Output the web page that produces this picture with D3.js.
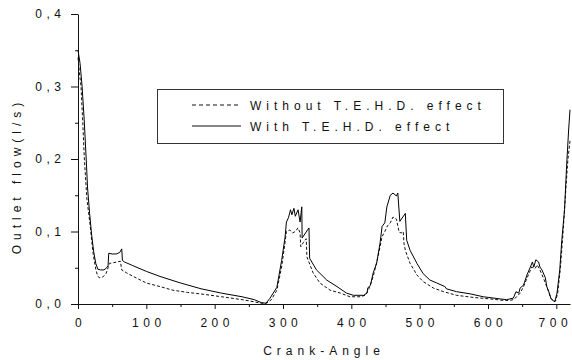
<!DOCTYPE html>
<html>
<head>
<meta charset="utf-8">
<script src="https://cdn.jsdelivr.net/npm/d3@7"></script>
<style>
  body { margin: 0; background: #fff; }
  svg { display: block; }
  .axis text { font-family: "Liberation Sans", Arial, sans-serif; font-size: 12px; letter-spacing: 4.5px; fill: #111; }
  .axis path, .axis line { stroke: #111; stroke-width: 1; }
  .title { font-family: "Liberation Sans", Arial, sans-serif; font-size: 12px; letter-spacing: 5px; fill: #111; }
</style>
</head>
<body>
<div class="flow-chart"></div>
<script>
const WIDTH = 572,
    HEIGHT = 360;

// crank angle (deg) / outlet flow (l/s)
const withAngle = [0, 3, 6, 9, 12, 14, 17, 20, 23, 26, 29, 33, 38, 42, 44, 45, 50, 56, 61, 64, 65, 68, 80, 100, 120, 150, 180, 210, 240, 258, 268, 275, 281, 291, 298, 303, 305, 308, 311, 313, 316, 318, 322, 325, 327.5, 328, 338, 339, 349, 364, 379, 393, 403, 418, 423, 424, 428, 432, 437, 442, 445, 449, 452, 457, 461, 466, 468, 471, 479, 481, 486, 496, 505, 515, 525, 537, 539, 554, 574, 593, 618, 627, 637, 641, 645, 647, 652, 657, 662, 665, 667, 670, 674, 676, 679, 684, 686, 689, 692, 696, 698, 701, 705, 708, 712, 715, 718, 720];
const withFlow = [0.350, 0.332, 0.300, 0.255, 0.200, 0.160, 0.125, 0.095, 0.072, 0.056, 0.048, 0.047, 0.047, 0.050, 0.053, 0.070, 0.069, 0.069, 0.071, 0.076, 0.060, 0.058, 0.053, 0.045, 0.038, 0.029, 0.021, 0.015, 0.010, 0.006, 0.002, 0.001, 0.008, 0.023, 0.060, 0.092, 0.113, 0.119, 0.130, 0.123, 0.132, 0.121, 0.130, 0.113, 0.134, 0.091, 0.105, 0.063, 0.047, 0.033, 0.024, 0.015, 0.012, 0.012, 0.015, 0.022, 0.026, 0.043, 0.056, 0.084, 0.107, 0.112, 0.134, 0.150, 0.153, 0.149, 0.153, 0.114, 0.125, 0.088, 0.074, 0.056, 0.042, 0.033, 0.029, 0.024, 0.021, 0.017, 0.014, 0.010, 0.007, 0.006, 0.008, 0.017, 0.015, 0.022, 0.026, 0.040, 0.051, 0.058, 0.051, 0.061, 0.058, 0.051, 0.047, 0.036, 0.024, 0.017, 0.008, 0.004, 0.004, 0.015, 0.047, 0.088, 0.130, 0.190, 0.240, 0.268];

const withoutAngle = [0, 2, 4.4, 7, 9.3, 13, 17.6, 22, 26, 29, 32, 36, 41, 44, 46, 52, 57, 62, 64, 71, 85, 100, 120, 139, 160, 179, 210, 240, 258, 268, 276, 283, 291, 298, 303, 305, 310, 314, 318, 322, 325, 326, 330, 334, 335, 344, 354, 369, 384, 398, 413, 420, 425, 432, 439, 445, 449, 453, 457, 461, 466, 470, 473, 476, 477, 479, 486, 496, 505, 520, 535, 554, 579, 603, 622, 632, 637, 642, 647, 652, 659, 664, 669, 672, 676, 681, 686, 692, 696, 699, 702, 706, 710, 714, 717, 720];
const withoutFlow = [0.340, 0.320, 0.300, 0.250, 0.200, 0.145, 0.110, 0.070, 0.048, 0.038, 0.036, 0.037, 0.042, 0.050, 0.056, 0.057, 0.058, 0.059, 0.047, 0.043, 0.036, 0.029, 0.024, 0.019, 0.016, 0.014, 0.010, 0.006, 0.003, 0.001, 0.001, 0.006, 0.019, 0.051, 0.085, 0.100, 0.102, 0.098, 0.100, 0.105, 0.098, 0.079, 0.085, 0.090, 0.065, 0.043, 0.029, 0.019, 0.015, 0.010, 0.010, 0.012, 0.019, 0.038, 0.065, 0.093, 0.100, 0.108, 0.112, 0.120, 0.117, 0.099, 0.098, 0.100, 0.084, 0.074, 0.056, 0.040, 0.031, 0.022, 0.017, 0.012, 0.009, 0.007, 0.005, 0.005, 0.006, 0.010, 0.015, 0.024, 0.040, 0.051, 0.049, 0.054, 0.047, 0.036, 0.024, 0.008, 0.003, 0.004, 0.015, 0.050, 0.100, 0.160, 0.200, 0.225];

const xTicks = [0, 100, 200, 300, 400, 500, 600, 700];
const xMinor = [50, 150, 250, 350, 450, 550, 650];
const yTicks = [0, 0.1, 0.2, 0.3, 0.4];
const yMinor = [0.05, 0.15, 0.25, 0.35];
const legendLabels = ["Without T.E.H.D. effect", "With T.E.H.D. effect"];

const svg = d3.select(".flow-chart")
    .append("svg")
    .attr("width", WIDTH)
    .attr("height", HEIGHT);

const x = d3.scaleLinear().domain([0, 720]).range([78, 570]);
const y = d3.scaleLinear().domain([0, 0.4]).range([304, 14]);

const fmt = d => d3.format(".1f")(d).replace(".", ",");

// minor ticks first, then the main axes on top
svg.append("g")
    .attr("class", "axis")
    .attr("transform", `translate(0, ${y(0)})`)
    .call(d3.axisBottom(x).tickValues(xMinor).tickSize(3).tickFormat(""))
    .select(".domain").remove();

svg.append("g")
    .attr("class", "axis")
    .attr("transform", `translate(${x(0)}, 0)`)
    .call(d3.axisLeft(y).tickValues(yMinor).tickSize(3).tickFormat(""))
    .select(".domain").remove();

const xAxis = svg.append("g")
    .attr("class", "axis")
    .attr("transform", `translate(0, ${y(0)})`)
    .call(d3.axisBottom(x).tickValues(xTicks).tickSize(5).tickSizeOuter(0).tickPadding(9));
// last label sits on the right edge, like the original
xAxis.selectAll("text").attr("dx", d => d === 700 ? -1.5 : 2);

const yAxis = svg.append("g")
    .attr("class", "axis")
    .attr("transform", `translate(${x(0)}, 0)`)
    .call(d3.axisLeft(y).tickValues(yTicks).tickSize(7).tickSizeOuter(0).tickPadding(10).tickFormat(fmt));
yAxis.selectAll("text").attr("dx", 4.5);

// curves
const withData = withAngle.map((a, i) => [a, withFlow[i]]);
const withoutData = withoutAngle.map((a, i) => [a, withoutFlow[i]]);
const line = d3.line().x(d => x(d[0])).y(d => y(d[1]));

svg.append("path")
    .datum(withoutData)
    .attr("d", line)
    .attr("fill", "none")
    .attr("stroke", "#111")
    .attr("stroke-width", 1)
    .attr("stroke-dasharray", "3,2");

svg.append("path")
    .datum(withData)
    .attr("d", line)
    .attr("fill", "none")
    .attr("stroke", "#000")
    .attr("stroke-width", 1);

// titles
svg.append("text")
    .attr("class", "title")
    .attr("x", 324)
    .attr("y", 355)
    .attr("text-anchor", "middle")
    .text("Crank-Angle");

svg.append("text")
    .attr("class", "title")
    .attr("transform", `translate(21, 176) rotate(-90)`)
    .attr("text-anchor", "middle")
    .text("Outlet flow(l/s)");

// legend
const legend = svg.append("g");
legend.append("rect")
    .attr("x", 157.5)
    .attr("y", 89.5)
    .attr("width", 346)
    .attr("height", 54)
    .attr("fill", "#fff")
    .attr("stroke", "#333");

legendLabels.forEach((label, i) => {
    const ly = 105 + i * 21;
    legend.append("line")
        .attr("x1", 192).attr("x2", 241)
        .attr("y1", ly).attr("y2", ly)
        .attr("stroke", "#111")
        .attr("stroke-dasharray", i === 0 ? "4,3" : null);
    legend.append("text")
        .attr("class", "title")
        .attr("x", 250)
        .attr("y", ly + 4.5)
        .text(label);
});
</script>
</body>
</html>
